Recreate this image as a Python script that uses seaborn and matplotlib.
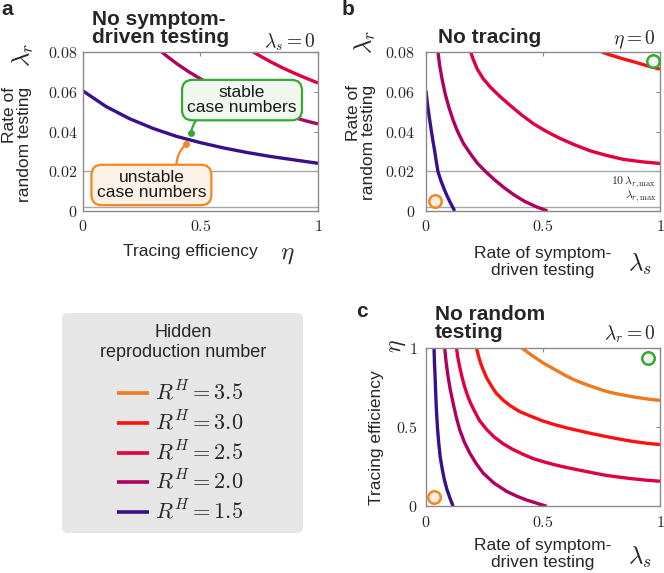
import numpy as np
import pandas as pd
import matplotlib
matplotlib.use("Agg")
import matplotlib.pyplot as plt
import seaborn as sns
from matplotlib.patches import FancyBboxPatch

# ---------------- data ----------------
R_labels = ["3.5", "3.0", "2.5", "2.0", "1.5"]
R_colors = ["#F0781E", "#FF1010", "#E0003F", "#B0005F", "#3A0F8E"]

# panel a : lambda_s = 0, x = eta, y = lambda_r
a_eta_15 = [0.0, 0.1, 0.2, 0.3, 0.4, 0.5, 0.6, 0.7, 0.8, 0.9, 1.0]
a_lr_15 = [0.0605, 0.0525, 0.0464, 0.0415, 0.0375, 0.0344, 0.0317, 0.0294, 0.0274, 0.0257, 0.0240]
a_eta_20 = [0.336, 0.36, 0.4, 0.45, 0.5, 0.55, 0.6, 0.65, 0.7, 0.75, 0.8, 0.85, 0.9, 0.95, 1.0]
a_lr_20 = [0.080, 0.0777, 0.0741, 0.0701, 0.0665, 0.0632, 0.0602, 0.0575, 0.0551, 0.0528,
           0.0507, 0.0487, 0.0470, 0.0453, 0.0438]
a_eta_25 = [0.725, 0.76, 0.8, 0.85, 0.9, 0.95, 1.0]
a_lr_25 = [0.080, 0.0776, 0.0750, 0.0720, 0.0693, 0.0668, 0.0644]

# panel b : eta = 0, x = lambda_s, y = lambda_r
b_ls_15 = [0.0, 0.006, 0.0128, 0.0228, 0.03, 0.037, 0.044, 0.0513, 0.063, 0.077, 0.09, 0.1026, 0.1225]
b_lr_15 = [0.0605, 0.0540, 0.0482, 0.0403, 0.0350, 0.0303, 0.0248, 0.0198, 0.0155, 0.0112,
           0.0076, 0.0045, 0.0]
b_ls_20 = [0.0513, 0.058, 0.070, 0.083, 0.098, 0.115, 0.134, 0.16, 0.191, 0.22, 0.255, 0.29,
           0.333, 0.375, 0.419, 0.47, 0.519]
b_lr_20 = [0.080, 0.0735, 0.0655, 0.0585, 0.0521, 0.0460, 0.0403, 0.0340, 0.0286, 0.0240,
           0.0198, 0.0160, 0.0118, 0.0082, 0.0050, 0.0022, 0.0]
b_ls_25 = [0.191, 0.20, 0.219, 0.245, 0.276, 0.32, 0.362, 0.41, 0.462, 0.515, 0.573, 0.635,
           0.701, 0.77, 0.843, 0.92, 1.0]
b_lr_25 = [0.080, 0.0768, 0.0714, 0.0665, 0.0622, 0.0572, 0.0529, 0.0482, 0.0437, 0.0400,
           0.0365, 0.0333, 0.0303, 0.0280, 0.0260, 0.0248, 0.0239]
b_ls_30 = [0.751, 0.78, 0.81, 0.84, 0.872, 0.91, 0.95, 1.0]
b_lr_30 = [0.080, 0.0788, 0.0777, 0.0766, 0.0756, 0.0743, 0.0729, 0.0714]

# panel c : lambda_r = 0, x = lambda_s, y = eta
c_ls_15 = [0.0356, 0.0375, 0.040, 0.0425, 0.0456, 0.050, 0.0556, 0.062, 0.0712, 0.08, 0.091,
           0.104, 0.117]
c_eta_15 = [1.0, 0.90, 0.82, 0.72, 0.61, 0.50, 0.40, 0.31, 0.23, 0.165, 0.105, 0.05, 0.0]
c_ls_20 = [0.081, 0.087, 0.0954, 0.105, 0.117, 0.130, 0.145, 0.165, 0.188, 0.215, 0.245, 0.29,
           0.345, 0.39, 0.43, 0.475, 0.516]
c_eta_20 = [1.0, 0.91, 0.819, 0.735, 0.651, 0.565, 0.483, 0.405, 0.336, 0.27, 0.21, 0.148,
            0.0945, 0.063, 0.040, 0.019, 0.0]
c_ls_25 = [0.131, 0.137, 0.145, 0.155, 0.165, 0.177, 0.19, 0.21, 0.23, 0.26, 0.29, 0.33, 0.37,
           0.415, 0.46, 0.505, 0.55, 0.60, 0.65, 0.71, 0.77, 0.83, 0.88, 0.94, 1.0]
c_eta_25 = [1.0, 0.94, 0.88, 0.815, 0.76, 0.705, 0.655, 0.595, 0.54, 0.485, 0.44, 0.395, 0.36,
            0.328, 0.30, 0.28, 0.262, 0.245, 0.23, 0.212, 0.195, 0.183, 0.174, 0.165, 0.158]
c_ls_30 = [0.2165, 0.225, 0.235, 0.247, 0.26, 0.28, 0.30, 0.33, 0.36, 0.40, 0.45, 0.50, 0.55,
           0.60, 0.65, 0.71, 0.77, 0.83, 0.88, 0.94, 1.0]
c_eta_30 = [1.0, 0.95, 0.90, 0.855, 0.81, 0.76, 0.715, 0.67, 0.635, 0.598, 0.567, 0.538, 0.515,
            0.495, 0.478, 0.458, 0.44, 0.423, 0.41, 0.398, 0.389]
c_ls_35 = [0.409, 0.43, 0.45, 0.475, 0.50, 0.53, 0.56, 0.595, 0.63, 0.665, 0.70, 0.735, 0.77,
           0.81, 0.85, 0.89, 0.93, 0.965, 1.0]
c_eta_35 = [1.0, 0.977, 0.955, 0.93, 0.905, 0.88, 0.855, 0.826, 0.80, 0.779, 0.76, 0.742, 0.725,
            0.711, 0.70, 0.689, 0.68, 0.673, 0.668]

# markers (unstable = orange, stable = green)
b_unstable = (0.0385, 0.005)
b_stable = (0.969, 0.0756)
c_unstable = (0.0356, 0.059)
c_stable = (0.950, 0.935)
a_stable_pt = (0.46, 0.039)
a_unstable_pt = (0.439, 0.0336)

ref_lines = [0.02, 0.002]

# ---------------- style ----------------
sns.set_style("white")
plt.rcParams["font.family"] = ["Liberation Sans", "DejaVu Sans"]
plt.rcParams["mathtext.fontset"] = "cm"

W, H = 664, 573
fig = plt.figure(figsize=(W / 100, H / 100), dpi=100)


def fx(x):
    return x / W


def fy(y):
    return 1 - y / H


def make_ax(l, r, t, b):
    return fig.add_axes([fx(l), fy(b), (r - l) / W, (b - t) / H])


axA = make_ax(82.7, 318, 52, 211)
axB = make_ax(426, 660, 52, 211)
axC = make_ax(425.7, 660, 347.7, 506.3)

ORANGE = "#F5861F"
GREEN = "#35A836"
TICKFS = 11.5


def style_ax(ax, ypad):
    for s in ax.spines.values():
        s.set_color("#8A8A8A")
        s.set_linewidth(1.0)
    ax.tick_params(direction="in", length=3, width=0.8, color="#8A8A8A",
                   top=True, right=True, labelsize=TICKFS)
    ax.tick_params(axis="x", pad=6)
    ax.tick_params(axis="y", pad=ypad)
    ax.set_xlim(0, 1)
    ax.set_xticks([0, 0.5, 1])
    ax.set_xticklabels(["$0$", "$0.5$", "$1$"])
    ax.set_xlabel("")
    ax.set_ylabel("")


def curve(ax, xs, ys, color):
    df = pd.DataFrame({"x": xs, "y": ys})
    sns.lineplot(data=df, x="x", y="y", ax=ax, color=color, lw=2.4,
                 sort=False, estimator=None, solid_capstyle="butt")


# panel a
for ys_ in ref_lines:
    axA.axhline(ys_, color="#A8A8A8", lw=1.0, zorder=1)
curve(axA, a_eta_15, a_lr_15, R_colors[4])
curve(axA, a_eta_20, a_lr_20, R_colors[3])
curve(axA, a_eta_25, a_lr_25, R_colors[2])
axA.set_ylim(0, 0.08)
style_ax(axA, 3.5)
axA.set_yticks([0, 0.02, 0.04, 0.06, 0.08])
axA.set_yticklabels(["$0$", "$0.02$", "$0.04$", "$0.06$", "$0.08$"])

axA.plot(*a_stable_pt, "o", color=GREEN, ms=4, zorder=6)
axA.plot(*a_unstable_pt, "o", color=ORANGE, ms=4, zorder=6)
axA.annotate("stable\ncase numbers", xy=a_stable_pt, xytext=(0.677, 0.0558),
             ha="center", va="center", fontsize=12.5, linespacing=1.0, color="#1a1a1a",
             bbox=dict(boxstyle="round,pad=0.3,rounding_size=0.6", fc="#EFF7EF", ec=GREEN, lw=1.6),
             arrowprops=dict(arrowstyle="-", color=GREEN, lw=1.6, shrinkA=0, shrinkB=0,
                             relpos=(0.14, 0.0),
                             connectionstyle="arc3,rad=0.25"), zorder=7)
axA.annotate("unstable\ncase numbers", xy=a_unstable_pt, xytext=(0.292, 0.0131),
             ha="center", va="center", fontsize=12.5, linespacing=1.0, color="#1a1a1a",
             bbox=dict(boxstyle="round,pad=0.3,rounding_size=0.6", fc="#FDF2E8", ec=ORANGE, lw=1.6),
             arrowprops=dict(arrowstyle="-", color=ORANGE, lw=1.6, shrinkA=0, shrinkB=0,
                             relpos=(0.73, 1.0),
                             connectionstyle="arc3,rad=-0.25"), zorder=7)

# panel b
for ys_ in ref_lines:
    axB.axhline(ys_, color="#A8A8A8", lw=1.0, zorder=1)
curve(axB, b_ls_15, b_lr_15, R_colors[4])
curve(axB, b_ls_20, b_lr_20, R_colors[3])
curve(axB, b_ls_25, b_lr_25, R_colors[2])
curve(axB, b_ls_30, b_lr_30, R_colors[1])
axB.set_ylim(0, 0.08)
style_ax(axB, 8)
axB.set_yticks([0, 0.02, 0.04, 0.06, 0.08])
axB.set_yticklabels(["$0$", "$0.02$", "$0.04$", "$0.06$", "$0.08$"])
axB.text(0.985, 0.0185, r"$10\,\lambda_{r,\mathrm{max}}$", ha="right", va="top", fontsize=8.5,
         transform=axB.transData)
axB.text(0.985, 0.0035, r"$\lambda_{r,\mathrm{max}}$", ha="right", va="bottom", fontsize=8.5,
         transform=axB.transData)
for pt, col, fc in [(b_unstable, ORANGE, "#FDEEE2"), (b_stable, GREEN, "#F0F8F0")]:
    axB.plot(*pt, "o", ms=9, mec=col, mfc=fc, mew=1.8, zorder=6, clip_on=False)

# panel c
curve(axC, c_ls_15, c_eta_15, R_colors[4])
curve(axC, c_ls_20, c_eta_20, R_colors[3])
curve(axC, c_ls_25, c_eta_25, R_colors[2])
curve(axC, c_ls_30, c_eta_30, R_colors[1])
curve(axC, c_ls_35, c_eta_35, R_colors[0])
axC.set_ylim(0, 1)
style_ax(axC, 6)
axC.set_yticks([0, 0.5, 1])
axC.set_yticklabels(["$0$", "$0.5$", "$1$"])
for pt, col, fc in [(c_unstable, ORANGE, "#FDEEE2"), (c_stable, GREEN, "#F0F8F0")]:
    axC.plot(*pt, "o", ms=9, mec=col, mfc=fc, mew=1.8, zorder=6, clip_on=False)

# ---------------- texts ----------------
def T(x, y, s, **kw):
    fig.text(fx(x), fy(y), s, **kw)


# panel letters
T(1, 15, "a", fontsize=15, fontweight="bold", va="baseline")
T(342, 15, "b", fontsize=15, fontweight="bold", va="baseline")
T(356, 317, "c", fontsize=15, fontweight="bold", va="baseline")

# titles
T(92, 43, "No symptom-\ndriven testing", fontsize=15, fontweight="bold", va="baseline",
  ha="left", linespacing=0.92)
T(316, 48, r"$\lambda_s = 0$", fontsize=14, ha="right", va="baseline")
T(438, 43, "No tracing", fontsize=15, fontweight="bold", va="baseline", ha="left")
T(656, 44, r"$\eta = 0$", fontsize=14, ha="right", va="baseline")
T(435, 338, "No random\ntesting", fontsize=15, fontweight="bold", va="baseline",
  ha="left", linespacing=0.92)
T(656, 340, r"$\lambda_r = 0$", fontsize=14, ha="right", va="baseline")

# y labels
T(17, 87, "Rate of\nrandom testing", fontsize=12.5, rotation=90, ha="center", va="top",
  multialignment="right", linespacing=1.0)
T(23, 55, r"$\lambda_r$", fontsize=18, rotation=90, ha="center", va="center")
T(361, 85, "Rate of\nrandom testing", fontsize=12.5, rotation=90, ha="center", va="top",
  multialignment="right", linespacing=1.0)
T(365, 42, r"$\lambda_r$", fontsize=18, rotation=90, ha="center", va="center")
T(377, 438, "Tracing efficiency", fontsize=12.5, rotation=90, ha="center", va="center")
T(397, 346, r"$\eta$", fontsize=17, rotation=90, ha="center", va="center")

# x labels
T(190, 256, "Tracing efficiency", fontsize=12.5, ha="center", va="baseline")
T(287, 254, r"$\eta$", fontsize=18, ha="center", va="center")
T(543, 262, "Rate of symptom-\ndriven testing", fontsize=12.5, ha="center", va="center",
  multialignment="center", linespacing=1.1)
T(640, 264, r"$\lambda_s$", fontsize=18, ha="center", va="center")
T(543, 554, "Rate of symptom-\ndriven testing", fontsize=12.5, ha="center", va="center",
  multialignment="center", linespacing=1.1)
T(640, 557, r"$\lambda_s$", fontsize=18, ha="center", va="center")

# ---------------- legend ----------------
axL = make_ax(62, 303, 313, 533)
axL.set_axis_off()
axL.set_xlim(62, 303)
axL.set_ylim(533, 313)
axL.add_patch(FancyBboxPatch((64, 315), 237, 216, boxstyle="round,pad=2,rounding_size=6",
                             fc="#E6E6E6", ec="none"))
axL.text(183, 332, "Hidden", ha="center", va="center", fontsize=13)
axL.text(183, 352, "reproduction number", ha="center", va="center", fontsize=13)
rows = [393, 423, 453, 482, 512]
for lab, col, yy in zip(R_labels, R_colors, rows):
    axL.plot([117, 149], [yy, yy], color=col, lw=2.6, solid_capstyle="butt")
    axL.text(155, yy + 7, r"$R^H = %s$" % lab, ha="left", va="baseline", fontsize=16)

fig.savefig("out.png", dpi=100)
